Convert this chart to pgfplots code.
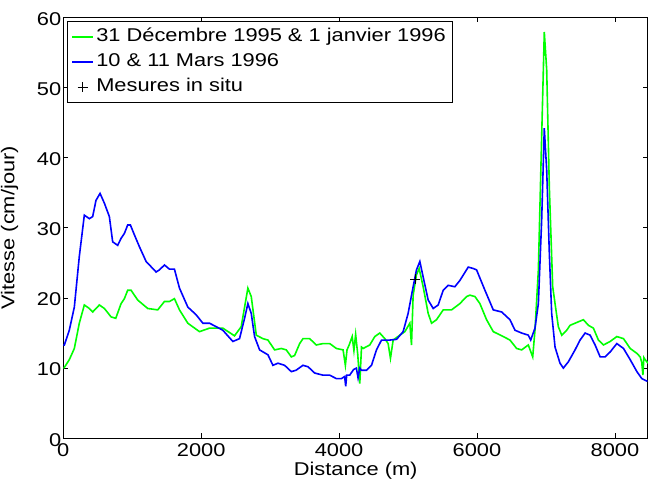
\documentclass[border=0pt]{standalone}
\usepackage{fontspec}
\setmainfont{Liberation Sans}[FakeStretch=1.18]
\usepackage{pgfplots}
\pgfplotsset{compat=1.18}
\definecolor{mgreen}{rgb}{0,1,0}
\definecolor{mblue}{rgb}{0,0,1}
\begin{document}
\begin{tikzpicture}
\useasboundingbox (-63.3pt,-47.7pt) rectangle (585.7pt,438.3pt);
\begin{axis}[
  at={(0,0)}, anchor=south west,
  scale only axis, width=584.7pt, height=421pt,
  xmin=0, xmax=8480, ymin=0, ymax=60,
  xtick={0,2000,...,8000}, ytick={0,10,...,60},
  tick align=inside, major tick length=5pt,
  axis line style={line width=1pt},
  every tick/.style={black, line width=0.8pt},
  /pgf/number format/assume math mode=true,
  /pgf/number format/1000 sep={},
  tick label style={font=\fontsize{18.5}{22}\selectfont},
  xticklabel style={yshift=-2pt},
  yticklabel style={xshift=1.5pt, yshift=-1.5pt},
  xlabel={Distance (m)}, ylabel={Vitesse (cm/jour)},
  label style={font=\fontsize{18.5}{22}\selectfont},
  xlabel style={at={(axis description cs:0.5,-0.0872)}, anchor=base},
  ylabel style={at={(axis description cs:-0.0838,0.5)}, anchor=base, rotate=0},
  legend cell align=left,
  legend image code/.code={\draw[mark repeat=2,mark phase=2,#1] plot coordinates {(0pt,0pt) (10.5pt,0pt) (21pt,0pt)};},
  legend style={at={(axis description cs:0.006,0.991)}, anchor=north west,
    draw=black, line width=0.8pt, fill=white, inner xsep=4pt, inner ysep=4pt,
    row sep=2pt, font=\fontsize{18.5}{22}\selectfont,
    nodes={text height=14pt, text depth=4pt, inner sep=2.5pt}},
]
\addplot[mgreen, line width=1.6pt] coordinates {
(0,10.0) (15,10.1) (87,11.2) (160,12.8) (232,16.4) (305,19.0) (378,18.5) (426,18.0)
(523,19.0) (596,18.5) (693,17.3) (761,17.1) (838,19.2) (886,19.9) (934,21.1) (983,21.1)
(1079,19.7) (1225,18.5) (1370,18.3) (1467,19.5) (1540,19.5) (1612,19.9) (1685,18.3)
(1806,16.4) (1975,15.2) (2121,15.7) (2314,15.7) (2483,14.6) (2580,15.9) (2677,21.4)
(2726,20.2) (2799,14.7) (2895,14.2) (2968,14.0) (3065,12.6) (3162,12.8) (3234,12.6)
(3307,11.6) (3355,11.8) (3428,13.5) (3476,14.2) (3573,14.2) (3670,13.3) (3767,13.5)
(3864,13.5) (3961,12.8) (4058,12.6) (4091,10.4) (4115,12.6) (4150,13.4) (4190,14.5)
(4215,12.5) (4240,14.8) (4270,12.0) (4300,7.8) (4325,13.0) (4348,12.8) (4445,13.3)
(4518,14.5) (4590,15.0) (4663,14.2) (4711,13.5) (4745,11.4) (4784,14.0) (4881,14.7)
(4954,15.2) (5026,16.4) (5050,13.3) (5074,20.4) (5122,23.3) (5161,24.2) (5219,21.6)
(5292,17.8) (5341,16.4) (5413,16.9) (5510,18.3) (5631,18.3) (5752,19.2) (5849,20.2)
(5897,20.4) (5970,20.2) (6042,19.2) (6139,16.9) (6236,15.2) (6381,14.5) (6478,14.0)
(6575,12.8) (6648,12.6) (6744,13.3) (6808,11.6) (6841,15.4) (6890,24.0) (6938,43.0)
(6976,57.9) (7011,52.5) (7049,35.8) (7098,21.6) (7132,19.2) (7180,15.9) (7229,14.7)
(7301,15.4) (7350,16.1) (7422,16.4) (7470,16.6) (7543,16.9) (7616,16.1) (7688,15.7)
(7761,14.0) (7834,13.3) (7931,13.8) (8028,14.5) (8125,14.2) (8222,12.8) (8319,12.1)
(8367,11.6) (8390,10.8) (8406,9.0) (8420,11.5) (8440,11.2) (8480,10.7)
};
\addlegendentry{31 Décembre 1995 \& 1 janvier 1996}
\addplot[mblue, line width=1.6pt] coordinates {
(0,13.3) (15,13.3) (87,15.4) (160,18.7) (232,25.9) (305,31.8) (378,31.3) (426,31.6)
(474,33.9) (533,34.9) (596,33.5) (668,31.6) (716,28.0) (789,27.5) (838,28.5) (886,29.2)
(934,30.4) (973,30.4) (1031,29.0) (1104,27.3) (1201,25.2) (1346,23.7) (1394,24.0)
(1467,24.7) (1540,24.1) (1612,24.1) (1685,21.4) (1806,18.7) (1927,17.6) (2024,16.4)
(2121,16.4) (2257,15.7) (2314,15.4) (2459,13.8) (2556,14.2) (2629,17.1) (2677,19.2)
(2726,17.8) (2774,14.5) (2847,12.6) (2968,11.9) (3040,10.4) (3113,10.7) (3210,10.4)
(3307,9.5) (3376,9.7) (3476,10.4) (3549,10.2) (3646,9.3) (3766,9.0) (3864,9.0)
(3961,8.5) (4033,8.5) (4080,8.8) (4096,7.4) (4110,9.0) (4154,9.0) (4210,9.8)
(4251,10.0) (4275,8.6) (4300,10.0) (4324,9.7) (4397,9.7) (4470,10.4) (4542,12.6)
(4615,14.0) (4735,14.0) (4833,14.1) (4929,15.2) (5001,17.8) (5074,21.6) (5122,24.0)
(5171,25.2) (5219,23.0) (5292,19.7) (5365,18.5) (5437,19.0) (5510,21.1) (5582,21.8)
(5679,21.6) (5752,22.5) (5873,24.4) (5945,24.2) (5994,24.0) (6115,21.1) (6236,18.3)
(6358,18.0) (6478,16.9) (6551,15.4) (6648,15.0) (6744,14.7) (6779,14.0) (6841,15.7)
(6890,19.2) (6938,31.1) (6976,44.2) (7011,38.2) (7049,26.4) (7083,17.8) (7132,13.0)
(7204,10.7) (7252,10.0) (7325,10.9) (7422,12.6) (7495,14.0) (7568,15.0) (7640,14.7)
(7713,13.3) (7786,11.6) (7858,11.6) (7931,12.3) (8028,13.5) (8125,12.8) (8222,11.2)
(8319,9.5) (8391,8.5) (8473,8.1)
};
\addlegendentry{10 \& 11 Mars 1996}
\addplot[only marks, mark=+, mark size=5pt, black, line width=0.8pt] coordinates {(5108,22.7)};
\addlegendentry{Mesures in situ}
\end{axis}
\end{tikzpicture}
\end{document}
